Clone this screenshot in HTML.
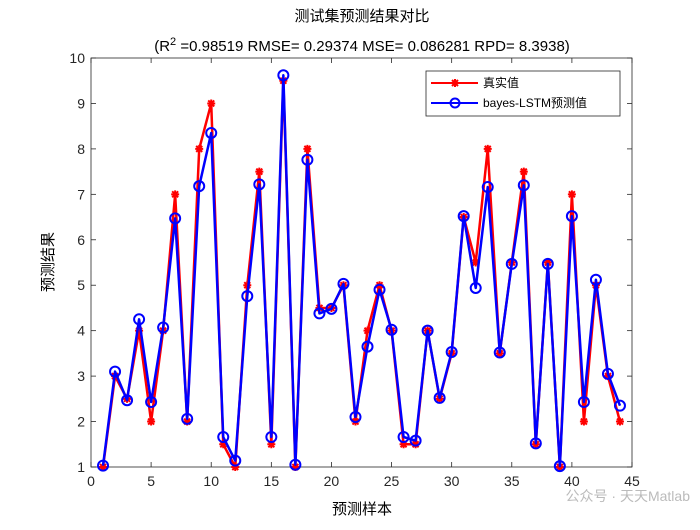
<!DOCTYPE html>
<html><head><meta charset="utf-8"><style>
body{margin:0;background:#fff;}
svg text{font-family:"Liberation Sans","Noto Sans CJK SC",sans-serif;}
</style></head><body>
<svg width="700" height="525" viewBox="0 0 700 525">
<rect width="700" height="525" fill="#fff"/>
<g id="plot"></g>
<text x="362" y="21" font-size="15" text-anchor="middle">测试集预测结果对比</text>
<text x="362" y="51" font-size="15" text-anchor="middle">(R<tspan dy="-6" font-size="11">2</tspan><tspan dy="6"> =0.98519 RMSE= 0.29374 MSE= 0.086281 RPD= 8.3938)</tspan></text>
<text x="362" y="514" font-size="15" text-anchor="middle">预测样本</text>
<text transform="translate(53,262) rotate(-90)" font-size="15" text-anchor="middle">预测结果</text>
<g>
<rect x="426" y="71" width="194" height="45" fill="#fff" stroke="#262626" stroke-width="0.8"/>
<line x1="431" y1="83" x2="478" y2="83" stroke="#f00" stroke-width="2"/>
<path d="M451,83H459M455,79V87M452,80L458,86M452,86L458,80" stroke="#f00" stroke-width="2"/>
<text x="483" y="87" font-size="12">真实值</text>
<line x1="431" y1="103" x2="478" y2="103" stroke="#00f" stroke-width="2"/>
<circle cx="455" cy="103" r="4.5" fill="none" stroke="#00f" stroke-width="2"/>
<text x="483" y="107" font-size="12">bayes-LSTM预测值</text>
</g>
<text x="690" y="501" font-size="14" fill="#bbb" text-anchor="end">公众号 · 天天Matlab</text>
</svg>
<script>
const sampleIdx=[1,2,3,4,5,6,7,8,9,10,11,12,13,14,15,16,17,18,19,20,21,22,23,24,25,26,27,28,29,30,31,32,33,34,35,36,37,38,39,40,41,42,43,44];
const trueVals=[1,3,2.5,4,2,4,7,2,8,9,1.5,1,5,7.5,1.5,9.5,1,8,4.5,4.5,5,2,4,5,4,1.5,1.5,4,2.5,3.5,6.5,5.5,8,3.5,5.5,7.5,1.5,5.5,1,7,2,5,3,2];
const predVals=[1.03,3.1,2.47,4.25,2.43,4.07,6.47,2.06,7.18,8.35,1.66,1.14,4.76,7.22,1.66,9.62,1.05,7.76,4.38,4.48,5.03,2.1,3.65,4.9,4.02,1.66,1.58,4.0,2.52,3.53,6.52,4.94,7.16,3.52,5.47,7.2,1.52,5.47,1.02,6.52,2.43,5.12,3.05,2.35];
const xTicks=[0,5,10,15,20,25,30,35,40,45];
const yTicks=[1,2,3,4,5,6,7,8,9,10];
const L=91,R=632,T=58,B=467;
const sx=v=>L+(v-0)/(45-0)*(R-L);
const sy=v=>B-(v-1)/(10-1)*(B-T);
const NS='http://www.w3.org/2000/svg';
const g=document.getElementById('plot');
function mk(tag,attrs){const e=document.createElementNS(NS,tag);for(const k in attrs)e.setAttribute(k,attrs[k]);g.appendChild(e);return e;}
const box=mk('rect',{x:L,y:T,width:R-L,height:B-T,fill:'none',stroke:'#262626','stroke-width':0.8});


xTicks.forEach(t=>{const x=sx(t);
mk('line',{x1:x,y1:B,x2:x,y2:B-5,stroke:'#262626','stroke-width':0.8});
mk('line',{x1:x,y1:T,x2:x,y2:T+5,stroke:'#262626','stroke-width':0.8});
const tx=mk('text',{x:x,y:B+19,'font-size':14,'text-anchor':'middle',fill:'#262626'});tx.textContent=t;

});
yTicks.forEach(t=>{const y=sy(t);
mk('line',{x1:L,y1:y,x2:L+5,y2:y,stroke:'#262626','stroke-width':0.8});
mk('line',{x1:R,y1:y,x2:R-5,y2:y,stroke:'#262626','stroke-width':0.8});
const tx=mk('text',{x:L-6,y:y+5,'font-size':14,'text-anchor':'end',fill:'#262626'});tx.textContent=t;

});
const tl=mk('polyline',{points:sampleIdx.map((s,i)=>sx(s)+','+sy(trueVals[i])).join(' '),fill:'none',stroke:'#f00','stroke-width':2.5,'stroke-linejoin':'round'});


sampleIdx.forEach((s,i)=>{const x=sx(s),y=sy(trueVals[i]);
const m=mk('path',{d:`M${x-4},${y}H${x+4}M${x},${y-4}V${y+4}M${x-3},${y-3}L${x+3},${y+3}M${x-3},${y+3}L${x+3},${y-3}`,stroke:'#f00','stroke-width':2});

});
const pl=mk('polyline',{points:sampleIdx.map((s,i)=>sx(s)+','+sy(predVals[i])).join(' '),fill:'none',stroke:'#00f','stroke-width':2.5,'stroke-linejoin':'round'});


sampleIdx.forEach((s,i)=>{
const c=mk('circle',{cx:sx(s),cy:sy(predVals[i]),r:5,fill:'none',stroke:'#00f','stroke-width':2});

});
</script>
</body></html>
